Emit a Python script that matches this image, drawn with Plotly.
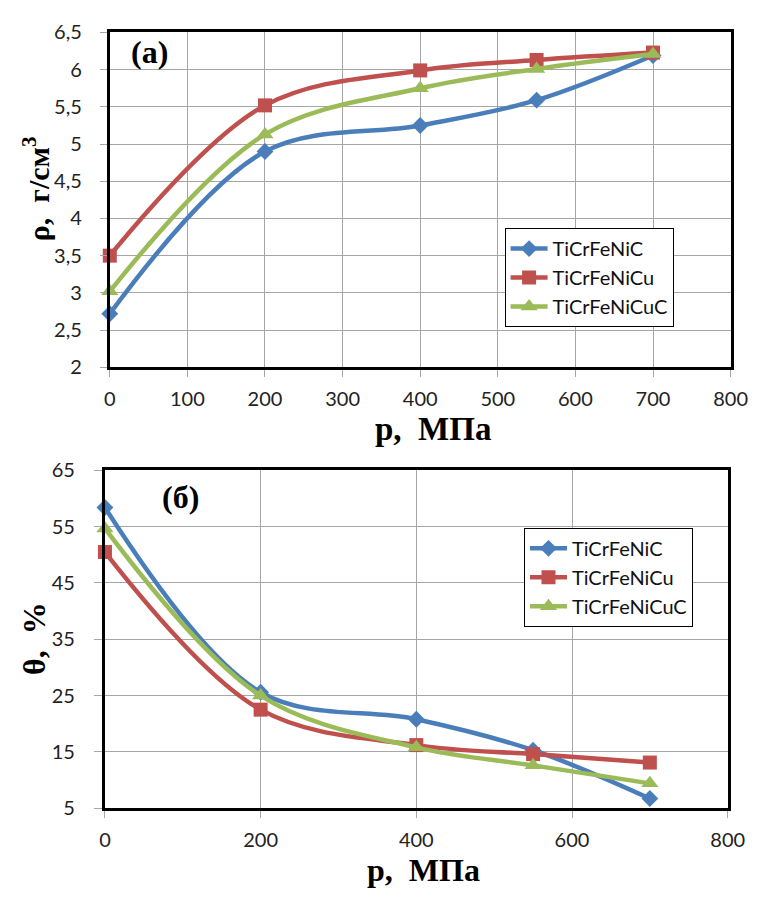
import plotly.graph_objects as go

pressure = [0, 200, 400, 550, 700]
series_names = ["TiCrFeNiC", "TiCrFeNiCu", "TiCrFeNiCuC"]
density_TiCrFeNiC = [2.72, 4.90, 5.25, 5.59, 6.19]
density_TiCrFeNiCu = [3.50, 5.52, 5.99, 6.13, 6.23]
density_TiCrFeNiCuC = [3.02, 5.13, 5.75, 6.01, 6.21]
porosity_TiCrFeNiC = [58.4, 25.6, 20.8, 15.3, 6.7]
porosity_TiCrFeNiCu = [50.5, 22.5, 16.2, 14.6, 13.1]
porosity_TiCrFeNiCuC = [54.7, 25.0, 15.8, 12.6, 9.4]

colors = ["#4A7EBB", "#C0504D", "#9BBB59"]
symbols = ["diamond", "square", "triangle-up"]
msizes = [13, 14, 15]

W, H = 767, 897
fig = go.Figure()

top_data = [density_TiCrFeNiC, density_TiCrFeNiCu, density_TiCrFeNiCuC]
bot_data = [porosity_TiCrFeNiC, porosity_TiCrFeNiCu, porosity_TiCrFeNiCuC]

for i, name in enumerate(series_names):
    fig.add_trace(go.Scatter(
        x=pressure, y=top_data[i], name=name, mode="lines+markers",
        line=dict(color=colors[i], width=4.5, shape="spline", smoothing=1.0),
        marker=dict(symbol=symbols[i], size=msizes[i], color=colors[i]),
        xaxis="x", yaxis="y", legend="legend", cliponaxis=False))
for i, name in enumerate(series_names):
    fig.add_trace(go.Scatter(
        x=pressure, y=bot_data[i], name=name, mode="lines+markers",
        line=dict(color=colors[i], width=4.5, shape="spline", smoothing=1.0),
        marker=dict(symbol=symbols[i], size=msizes[i], color=colors[i]),
        xaxis="x2", yaxis="y2", legend="legend2", cliponaxis=False))

tickfont = dict(family="Lato, Open Sans, sans-serif", size=20, color="#222")
common = dict(showgrid=True, gridcolor="#A6A6A6", gridwidth=1, showline=True,
              linecolor="black", linewidth=3, mirror=True, ticks="outside",
              tickcolor="#A6A6A6", tickfont=tickfont, zeroline=False)

legfont = dict(family="Lato, Open Sans, sans-serif", size=20, color="#111")

fig.update_layout(
    width=W, height=H, margin=dict(l=0, r=0, t=0, b=0),
    paper_bgcolor="white", plot_bgcolor="white", separators=", ",
    xaxis=dict(domain=[107/W, 747/W], range=[0, 800], dtick=100, anchor="y",
               ticklen=7, ticklabelstandoff=5, **common),
    yaxis=dict(domain=[1-364/H, 1-20/H], range=[2, 6.5], dtick=0.5, anchor="x",
               ticklen=7, ticklabelstandoff=14, **common),
    xaxis2=dict(domain=[102/W, 744/W], range=[0, 800], dtick=200, anchor="y2",
                ticklen=7, ticklabelstandoff=5, **common),
    yaxis2=dict(domain=[1-817/H, 1-470/H], range=[5, 65], tick0=5, dtick=10, anchor="x2",
                ticklen=8, ticklabelstandoff=15, **common),
    legend=dict(x=514/W, y=1-221/H, xanchor="left", yanchor="top",
                bordercolor="black", borderwidth=1, bgcolor="white",
                font=legfont, tracegroupgap=0, itemwidth=37),
    legend2=dict(x=534/W, y=1-529/H, xanchor="left", yanchor="top",
                 bordercolor="black", borderwidth=1, bgcolor="white",
                 font=legfont, tracegroupgap=0, itemwidth=37),
)

serif = "Liberation Serif, Times New Roman, serif"
ann = [
    dict(text="<b>(a)</b>", x=148/W, y=1-40/H, size=32, angle=0),
    dict(text="<b>(б)</b>", x=180/W, y=1-497/H, size=32, angle=0),
    dict(text="<b>p,  МПа</b>", x=440/W, y=1-427/H, size=33, angle=0),
    dict(text="<b>p,  МПа</b>", x=430/W, y=1-881/H, size=32, angle=0),
    dict(text="<b>ρ,  г/см<sup>3</sup></b>", x=31/W, y=1-181/H, size=30, angle=-90),
    dict(text="<b>θ,  %</b>", x=29/W, y=1-643/H, size=32, angle=-90),
]
for a in ann:
    fig.add_annotation(text=a["text"], x=a["x"], y=a["y"], xref="paper", yref="paper",
                       showarrow=False, textangle=a["angle"], xanchor="center", yanchor="middle",
                       font=dict(family=serif, size=a["size"], color="black"))

fig.write_html("out.html")
